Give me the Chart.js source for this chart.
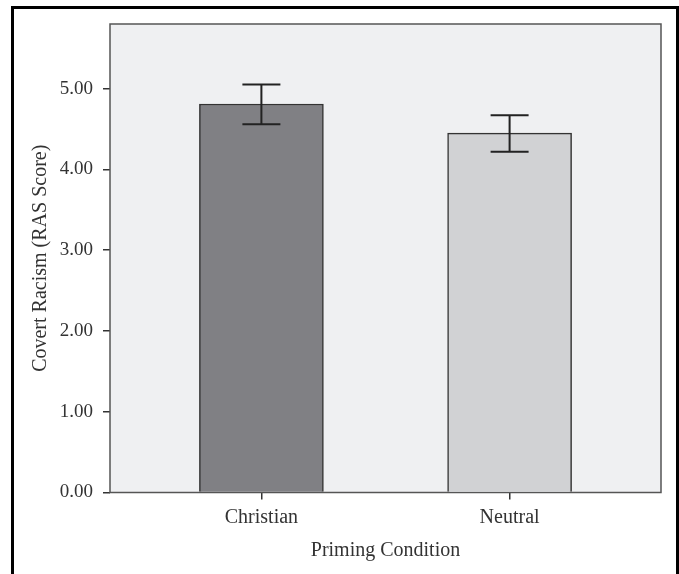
<!DOCTYPE html>
<html>
<head>
<meta charset="utf-8">
<script src="https://cdn.jsdelivr.net/npm/chart.js"></script>
<style>
  html, body { margin: 0; padding: 0; background: #fff; }
  #wrap { position: relative; width: 679px; height: 574px; overflow: hidden; }
  #frame { position: absolute; left: 11px; top: 6px; width: 662px; height: 600px; border: 3px solid #000; pointer-events: none; }
  canvas { position: absolute; left: 0; top: 0; }
</style>
</head>
<body>
<div id="wrap">
  <canvas id="chart" width="679" height="574"></canvas>
  <div id="frame"></div>
</div>
<script>
// data
const categories = ['Christian', 'Neutral'];
const means = [4.81, 4.45];
const errLow = [4.56, 4.22];
const errHigh = [5.05, 4.67];
const yTicks = [0, 1, 2, 3, 4, 5];
const barColors = ['#808084', '#d1d2d4'];

const serif = 'Liberation Serif, Times New Roman, serif';

// plot background + frame
const backdrop = {
    id: 'backdrop',
    beforeDatasetsDraw(chart) {
        const { ctx, chartArea: a } = chart;
        ctx.save();
        ctx.fillStyle = '#eff0f2';
        ctx.fillRect(a.left, a.top, a.right - a.left, a.bottom - a.top);
        ctx.strokeStyle = '#555';
        ctx.lineWidth = 1.5;
        ctx.strokeRect(a.left, a.top, a.right - a.left, a.bottom - a.top);
        ctx.restore();
    }
};

// error bars drawn through the scales
const errorBars = {
    id: 'errorBars',
    afterDatasetsDraw(chart) {
        const { ctx, scales: { x, y } } = chart;
        ctx.save();
        ctx.strokeStyle = '#222';
        ctx.lineWidth = 2;
        const cap = 19;
        categories.forEach((c, i) => {
            const px = x.getPixelForValue(i);
            const top = y.getPixelForValue(errHigh[i]);
            const bot = y.getPixelForValue(errLow[i]);
            ctx.beginPath();
            ctx.moveTo(px, top); ctx.lineTo(px, bot);
            ctx.moveTo(px - cap, top); ctx.lineTo(px + cap, top);
            ctx.moveTo(px - cap, bot); ctx.lineTo(px + cap, bot);
            ctx.stroke();
        });
        ctx.restore();
    }
};

new Chart(document.getElementById('chart').getContext('2d'), {
    type: 'bar',
    data: {
        datasets: [{
            data: means.map((v, i) => ({ x: i, y: v })),
            backgroundColor: barColors,
            borderColor: '#333',
            borderWidth: 1.5,
            barThickness: 124
        }]
    },
    options: {
        responsive: false,
        animation: false,
        devicePixelRatio: 1,
        layout: { padding: { left: 0, top: 24, right: 18, bottom: 0 } },
        plugins: { legend: { display: false }, tooltip: { enabled: false } },
        scales: {
            x: {
                type: 'linear',
                min: -0.61,
                max: 1.61,
                offset: false,
                afterBuildTicks: (s) => { s.ticks = categories.map((c, i) => ({ value: i })); },
                afterFit: (s) => { s.height = 81.5; },
                grid: { offset: false, drawOnChartArea: false, drawTicks: true, tickLength: 7, color: '#333', lineWidth: 1.5 },
                border: { display: false },
                ticks: {
                    callback: (v) => categories[v],
                    color: '#333',
                    padding: 6,
                    maxRotation: 0,
                    font: { family: serif, size: 20 }
                },
                title: {
                    display: true,
                    text: 'Priming Condition',
                    color: '#333',
                    font: { family: serif, size: 20 },
                    padding: { top: 0, bottom: 11 }
                }
            },
            y: {
                min: 0,
                max: 5.8,
                afterBuildTicks: (s) => { s.ticks = yTicks.map(v => ({ value: v })); },
                afterFit: (s) => { s.width = 110; },
                grid: { drawOnChartArea: false, drawTicks: true, tickLength: 7, color: '#333', lineWidth: 1.5 },
                border: { display: false },
                ticks: {
                    callback: (v) => v.toFixed(2),
                    color: '#333',
                    padding: 10,
                    font: { family: serif, size: 19 }
                },
                title: {
                    display: true,
                    text: 'Covert Racism (RAS Score)',
                    color: '#333',
                    font: { family: serif, size: 20 },
                    padding: { top: 29, bottom: 0 }
                }
            }
        }
    },
    plugins: [backdrop, errorBars]
});
</script>
</body>
</html>
